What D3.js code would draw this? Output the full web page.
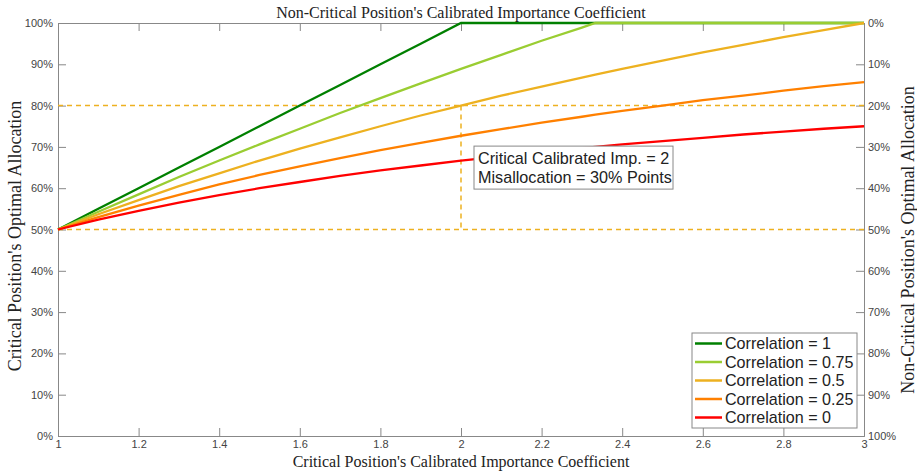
<!DOCTYPE html>
<html>
<head>
<meta charset="utf-8">
<script src="https://cdn.jsdelivr.net/npm/d3@7"></script>
<style>
  body { margin: 0; background: #fff; }
  svg { display: block; }
  .tick text { font-family: "Liberation Sans", Arial, sans-serif; font-size: 11px; fill: #444; }
  .serif { font-family: "Liberation Serif", "Times New Roman", serif; font-size: 16px; fill: #222; }
</style>
</head>
<body>
<div id="chart"></div>
<script>
// x positions (importance coefficient)
const xValues = [1.0, 1.1, 1.2, 1.3, 1.4, 1.5, 1.6, 1.7, 1.8, 1.9, 2.0, 2.1, 2.2, 2.3, 2.3333, 2.4, 2.5, 2.6, 2.7, 2.8, 2.9, 3.0];

// optimal allocation (%) for each correlation
const corr1   = [50, 55, 60, 65, 70, 75, 80, 85, 90, 95, 100, 100, 100, 100, 100, 100, 100, 100, 100, 100, 100, 100];
const corr075 = [50, 54.3, 58.5, 62.7, 66.7, 70.6, 74.4, 78.2, 81.8, 85.4, 88.9, 92.3, 95.7, 98.9, 100, 100, 100, 100, 100, 100, 100, 100];
const corr05  = [50, 53.7, 57.1, 60.5, 63.6, 66.7, 69.6, 72.3, 75, 77.6, 80, 82.4, 84.6, 86.8, 87.5, 88.9, 90.9, 92.9, 94.7, 96.6, 98.3, 100];
const corr025 = [50, 53.0, 55.8, 58.4, 60.9, 63.2, 65.3, 67.3, 69.2, 71.0, 72.7, 74.3, 75.9, 77.3, 77.8, 78.7, 80, 81.3, 82.4, 83.6, 84.7, 85.7];
const corr0   = [50, 52.4, 54.5, 56.5, 58.3, 60, 61.5, 63.0, 64.3, 65.5, 66.7, 67.7, 68.8, 69.7, 70.0, 70.6, 71.4, 72.2, 73.0, 73.7, 74.4, 75];

const seriesNames = ["Correlation = 1", "Correlation = 0.75", "Correlation = 0.5", "Correlation = 0.25", "Correlation = 0"];
const seriesValues = [corr1, corr075, corr05, corr025, corr0];
const seriesColors = ["#008000", "#9ACD32", "#EDB120", "#FF8000", "#FF0000"];

const xTicks = [1, 1.2, 1.4, 1.6, 1.8, 2, 2.2, 2.4, 2.6, 2.8, 3];
const yTicks = [0, 10, 20, 30, 40, 50, 60, 70, 80, 90, 100];

// annotation guide values
const guideX = 2;
const guideHigh = 80;
const guideLow = 50;
const noteLines = ["Critical Calibrated Imp. = 2", "Misallocation = 30% Points"];

const W = 917, H = 471;
const m = { left: 58, right: 53, top: 23, bottom: 35 };
const iw = W - m.left - m.right, ih = H - m.top - m.bottom;

const svg = d3.select("#chart").append("svg")
    .attr("width", W)
    .attr("height", H);

const g = svg.append("g").attr("transform", `translate(${m.left},${m.top})`);

const x = d3.scaleLinear().domain([1, 3]).range([0, iw]);
const y = d3.scaleLinear().domain([0, 100]).range([ih, 0]);
const yRight = d3.scaleLinear().domain([100, 0]).range([ih, 0]);

const axisColor = "#888";

// axes with inward ticks
const bottomAxis = g.append("g").attr("transform", `translate(0,${ih})`)
    .call(d3.axisBottom(x).tickValues(xTicks).tickSize(-8).tickPadding(4).tickFormat(d3.format("")));
const topAxis = g.append("g")
    .call(d3.axisTop(x).tickValues(xTicks).tickSize(-8).tickFormat(""));
const leftAxis = g.append("g")
    .call(d3.axisLeft(y).tickValues(yTicks).tickSize(-8).tickPadding(5).tickFormat(d => d + "%"));
const rightAxis = g.append("g").attr("transform", `translate(${iw},0)`)
    .call(d3.axisRight(yRight).tickValues(yTicks).tickSize(-8).tickPadding(4).tickFormat(d => d + "%"));

[bottomAxis, topAxis, leftAxis, rightAxis].forEach(a => {
    a.select(".domain").attr("stroke", axisColor);
    a.selectAll(".tick line").attr("stroke", axisColor);
});

// dashed guides
const guide = g.append("g")
    .attr("stroke", "#EDB120")
    .attr("stroke-width", 1.5)
    .attr("stroke-dasharray", "5,4")
    .attr("fill", "none");
guide.append("line").attr("x1", x(1)).attr("x2", x(3)).attr("y1", y(guideHigh)).attr("y2", y(guideHigh));
guide.append("line").attr("x1", x(1)).attr("x2", x(3)).attr("y1", y(guideLow)).attr("y2", y(guideLow));
guide.append("line").attr("x1", x(guideX)).attr("x2", x(guideX)).attr("y1", y(guideHigh)).attr("y2", y(guideLow));

// curves
const line = d3.line()
    .x((d, i) => x(xValues[i]))
    .y(d => y(d));

seriesValues.forEach((vals, k) => {
    g.append("path")
        .datum(vals)
        .attr("fill", "none")
        .attr("stroke", seriesColors[k])
        .attr("stroke-width", 2.3)
        .attr("d", line);
});

// annotation box
const note = g.append("g").attr("transform", `translate(${x(guideX) + 13},${y(guideHigh) + 40.5})`);
note.append("rect")
    .attr("width", 199).attr("height", 43)
    .attr("fill", "#fff")
    .attr("stroke", "#888");
note.selectAll("text").data(noteLines).enter().append("text")
    .attr("x", 4)
    .attr("y", (d, i) => 18 + i * 18.5)
    .attr("font-family", "Liberation Sans, Arial, sans-serif")
    .attr("font-size", 16.2)
    .attr("fill", "#222")
    .text(d => d);

// legend
const legend = g.append("g").attr("transform", `translate(${iw - 172},${ih - 103})`);
legend.append("rect")
    .attr("width", 165).attr("height", 95)
    .attr("fill", "#fff")
    .attr("stroke", "#888");
seriesNames.forEach((name, k) => {
    const row = legend.append("g").attr("transform", `translate(0,${10.5 + k * 18.5})`);
    row.append("line")
        .attr("x1", 3).attr("x2", 30)
        .attr("stroke", seriesColors[k])
        .attr("stroke-width", 2.5);
    row.append("text")
        .attr("x", 33)
        .attr("dy", "0.35em")
        .attr("font-family", "Liberation Sans, Arial, sans-serif")
        .attr("font-size", 16.1)
        .attr("fill", "#222")
        .text(name);
});

// titles
svg.append("text").attr("class", "serif")
    .attr("x", m.left + iw / 2).attr("y", 18)
    .attr("text-anchor", "middle")
    .text("Non-Critical Position's Calibrated Importance Coefficient");
svg.append("text").attr("class", "serif")
    .attr("x", m.left + iw / 2).attr("y", 467)
    .attr("text-anchor", "middle")
    .text("Critical Position's Calibrated Importance Coefficient");
svg.append("text").attr("class", "serif")
    .attr("transform", "translate(21,236) rotate(-90)")
    .attr("text-anchor", "middle")
    .attr("font-size", 18)
    .style("font-size", "18px")
    .text("Critical Position's Optimal Allocation");
svg.append("text").attr("class", "serif")
    .attr("transform", "translate(914,240) rotate(-90)")
    .attr("text-anchor", "middle")
    .style("font-size", "18px")
    .text("Non-Critical Position's Optimal Allocation");
</script>
</body>
</html>
